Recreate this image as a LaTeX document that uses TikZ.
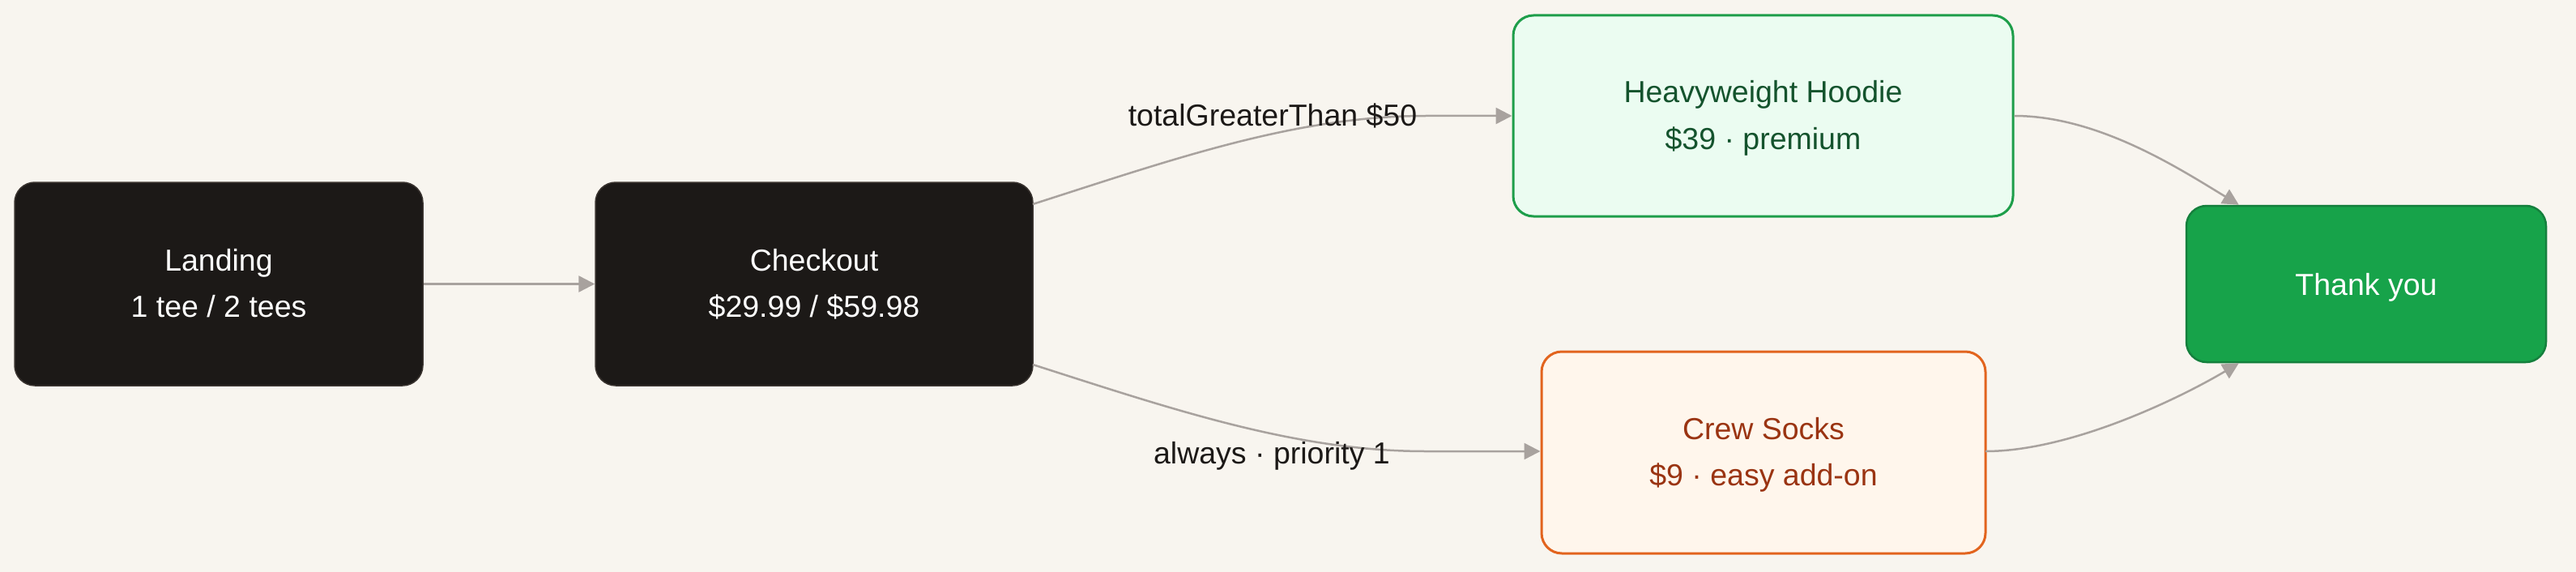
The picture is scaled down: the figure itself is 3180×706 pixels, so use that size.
\documentclass[tikz,border=0pt]{standalone}
\usepackage{fontspec}
\setmainfont{Liberation Sans}
\usetikzlibrary{arrows.meta,calc}
\definecolor{bg}{HTML}{F8F5EF}
\definecolor{darkfill}{HTML}{1C1917}
\definecolor{darkedge}{HTML}{3A3430}
\definecolor{edgec}{HTML}{A8A29E}
\definecolor{hoodfill}{HTML}{EBFCF1}
\definecolor{hoodedge}{HTML}{1E9E4A}
\definecolor{hoodtext}{HTML}{14532D}
\definecolor{sockfill}{HTML}{FFF6EC}
\definecolor{sockedge}{HTML}{E2641E}
\definecolor{socktext}{HTML}{9A3412}
\definecolor{thxfill}{HTML}{17A34A}
\definecolor{thxedge}{HTML}{15803D}
\definecolor{labtext}{HTML}{1C1917}
\tikzset{
  box/.style={rectangle, rounded corners=25pt, inner sep=0pt, line width=3pt},
  darkbox/.style={box, fill=darkfill, draw=darkedge, line width=1.5pt},
  hoodbox/.style={box, fill=hoodfill, draw=hoodedge},
  sockbox/.style={box, fill=sockfill, draw=sockedge},
  thxbox/.style={box, fill=thxfill, draw=thxedge, line width=2.5pt},
  txt/.style={font=\fontsize{37.5}{45}\selectfont, inner sep=0pt, anchor=base},
  wtxt/.style={txt, text=white},
  htxt/.style={txt, text=hoodtext},
  stxt/.style={txt, text=socktext},
  ltxt/.style={txt, text=labtext},
  edge/.style={draw=edgec, line width=2.5pt, -{Triangle[length=20pt,width=20pt]}}
}
\begin{document}
\begin{tikzpicture}[x=1pt,y=-1pt]
\fill[bg] (0,0) rectangle (3180,706);
\useasboundingbox (0,0) rectangle (3180,706);

% boxes
\node[darkbox, minimum width=504pt, minimum height=251pt] (landing) at (270,350.5) {};
\node[darkbox, minimum width=540pt, minimum height=251pt] (checkout) at (1005,350.5) {};
\node[hoodbox, minimum width=617pt, minimum height=248pt] (hoodie) at (2176.5,143) {};
\node[sockbox, minimum width=548pt, minimum height=249pt] (socks) at (2177,558.5) {};
\node[thxbox, minimum width=444pt, minimum height=193pt] (thanks) at (2921,350.5) {};

% texts
\node[wtxt] (landing-a) at (270,334.5) {Landing};
\node[wtxt] (landing-b) at (270,391.5) {1 tee / 2 tees};
\node[wtxt] (checkout-a) at (1005,334.5) {Checkout};
\node[wtxt] (checkout-b) at (1005,391.5) {\$29.99 / \$59.98};
\node[htxt] (hoodie-a) at (2176.5,127) {Heavyweight Hoodie};
\node[htxt] (hoodie-b) at (2176.5,184) {\$39 · premium};
\node[stxt] (socks-a) at (2177,542.5) {Crew Socks};
\node[stxt] (socks-b) at (2177,599.5) {\$9 · easy add-on};
\node[wtxt] (thanks-a) at (2921,364) {Thank you};

% connector points
\coordinate (cu) at (1275,252);
\coordinate (ku) at (1760,143);
\coordinate (cd) at (1275,450);
\coordinate (kd) at (1760,557);
\coordinate (tu) at ($(thanks.north west)+(66,0)$);
\coordinate (td) at ($(thanks.south west)+(66,0)$);
\coordinate (hs) at (hoodie.east);
\coordinate (ss) at (2451,557);

% connectors
\draw[edge] (landing) -- (checkout);
\draw[edge] (cu) .. controls (1450,196) and (1600,143) .. (ku) -- (hoodie.west);
\draw[edge] (cd) .. controls (1450,506) and (1600,557) .. (kd) -- (socks.west |- kd);
\draw[edge] (hs) .. controls (2590,143) and (2690,208) .. (tu);
\draw[edge] (ss) .. controls (2556,557) and (2690,492) .. (td);

% edge labels
\node[ltxt] (lab-up) at (1571,155) {totalGreaterThan \$50};
\node[ltxt] (lab-down) at (1570,572) {always · priority 1};
\end{tikzpicture}
\end{document}
